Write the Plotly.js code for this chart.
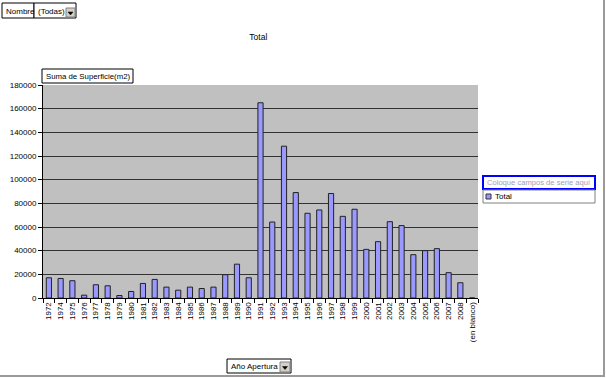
<!DOCTYPE html>
<html><head><meta charset="utf-8">
<script src="https://cdn.plot.ly/plotly-3.0.1.min.js"></script>
<style>
html,body{margin:0;padding:0;background:#fff;overflow:hidden}
#chart{width:606px;height:378px;position:absolute;left:0;top:0}
#frame{position:absolute;left:0;top:0;width:603px;height:375px;border-right:2px solid #9a9a9a;border-bottom:2px solid #9a9a9a;pointer-events:none}
</style></head><body>
<div id="chart"></div><div id="frame"></div>
<script>
const categories = ['1972','1974','1975','1976','1977','1978','1979','1980','1981','1982','1983','1984','1985','1986','1987','1988','1989','1990','1991','1992','1993','1994','1995','1996','1997','1998','1999','2000','2001','2002','2003','2004','2005','2006','2007','2008','(en blanco)'];
const superficie = [17100,16500,14600,2400,11200,10300,2100,5500,12300,15700,9200,6600,9200,8000,9200,19700,28600,17100,165000,64200,128300,89100,71600,74400,88300,69000,75000,41100,47600,64500,61200,36600,40000,41700,21400,12900,0];
const yTickVals = [0,20000,40000,60000,80000,100000,120000,140000,160000,180000];
const yTickText = ['0','20000','40000','60000','80000','100000','120000','140000','160000','180000'];
const seriesName = 'Total';
const chartTitle = 'Total';
const dataFieldLabel = 'Suma de Superficie(m2)';
const pageFieldLabel = 'Nombre';
const pageFieldValue = '(Todas)';
const categoryFieldLabel = 'Año Apertura';
const seriesDropLabel = 'Coloque campos de serie aquí';

const W = 606, H = 378;
const L = 43, R = 478, T = 85, B = 298;
const px = x => (x - L) / (R - L);
const py = y => (B - y) / (B - T);
const FONT = 'Liberation Sans, Arial, sans-serif';

function box(x0, y0, x1, y1, line, fill, lw) {
  return {type:'rect', xref:'paper', yref:'paper', x0:px(x0), x1:px(x1), y0:py(y1), y1:py(y0),
    line:{color:line, width:lw||1}, fillcolor:fill, layer:'above'};
}
function arrowBtn(x0, y0, x1, y1) {
  const cx = (x0 + x1) / 2, cy = (y0 + y1) / 2 + 1;
  return [
    box(x0, y0, x1, y1, '#808080', '#d4d0c8', 1),
    {type:'path', xref:'paper', yref:'paper', layer:'above',
     path:`M ${px(cx-2.5)} ${py(cy-1.5)} L ${px(cx+2.5)} ${py(cy-1.5)} L ${px(cx)} ${py(cy+1.5)} Z`,
     fillcolor:'#000', line:{color:'#000', width:0.5}}
  ];
}
function label(text, x, y, anchor, color, size) {
  return {text:text, xref:'paper', yref:'paper', x:px(x), y:py(y), xanchor:anchor||'left', yanchor:'middle',
    showarrow:false, font:{family:FONT, size:size||8, color:color||'#000'}};
}

const shapes = [
  box(2, 3, 34, 18, '#000', '#fff'),
  box(34, 3, 76, 18, '#000', '#fff'),
  ...arrowBtn(66, 8, 75, 17),
  box(42, 69, 133, 83, '#000', '#fff'),
  box(227, 359, 291, 373, '#000', '#fff'),
  ...arrowBtn(280, 362, 290, 372),
  box(483, 176, 595, 189, '#0000ff', '#fff', 2),
  box(483, 190, 595, 203, '#808080', '#fff'),
  box(486, 194, 491, 199, '#333', '#9999ff')
];
const annotations = [
  label(pageFieldLabel, 4, 11),
  label(pageFieldValue, 36, 11),
  label(dataFieldLabel, 43.5, 76, 'left', '#000', 7.8),
  label(categoryFieldLabel, 229, 366),
  label(seriesDropLabel, 485, 182.5, 'left', '#a0a0b8', 7.6),
  label(seriesName, 493, 196.5)
];

const trace = {
  type:'bar', x:categories, y:superficie, name:seriesName,
  marker:{color:'#9999ff', line:{color:'#222', width:1}},
  hoverinfo:'x+y'
};

const layout = {
  width:W, height:H,
  margin:{l:L, r:W-R, t:T, b:H-B, pad:0},
  paper_bgcolor:'rgba(0,0,0,0)', plot_bgcolor:'#c0c0c0',
  showlegend:false,
  bargap:0.56,
  font:{family:FONT, size:8, color:'#000'},
  title:{text:chartTitle, x:0.495, xref:'paper', xanchor:'center', y:1-37/H, yanchor:'middle', font:{family:FONT, size:8.5, color:'#000'}},
  xaxis:{type:'category', tickangle:-90, tickson:'boundaries', ticks:'outside', ticklen:4, tickcolor:'#000',
    showline:true, linecolor:'#000', linewidth:1, showgrid:false, tickfont:{family:FONT, size:8, color:'#000'}, fixedrange:true},
  yaxis:{range:[0,180000], tickmode:'array', tickvals:yTickVals, ticktext:yTickText, ticks:'outside', ticklen:4, tickcolor:'#000',
    showline:true, linecolor:'#000', linewidth:1, gridcolor:'#333', gridwidth:1, zeroline:false,
    tickfont:{family:FONT, size:8, color:'#000'}, fixedrange:true},
  shapes:shapes, annotations:annotations
};

Plotly.newPlot('chart', [trace], layout, {displayModeBar:false, staticPlot:true});
</script>
</body></html>
